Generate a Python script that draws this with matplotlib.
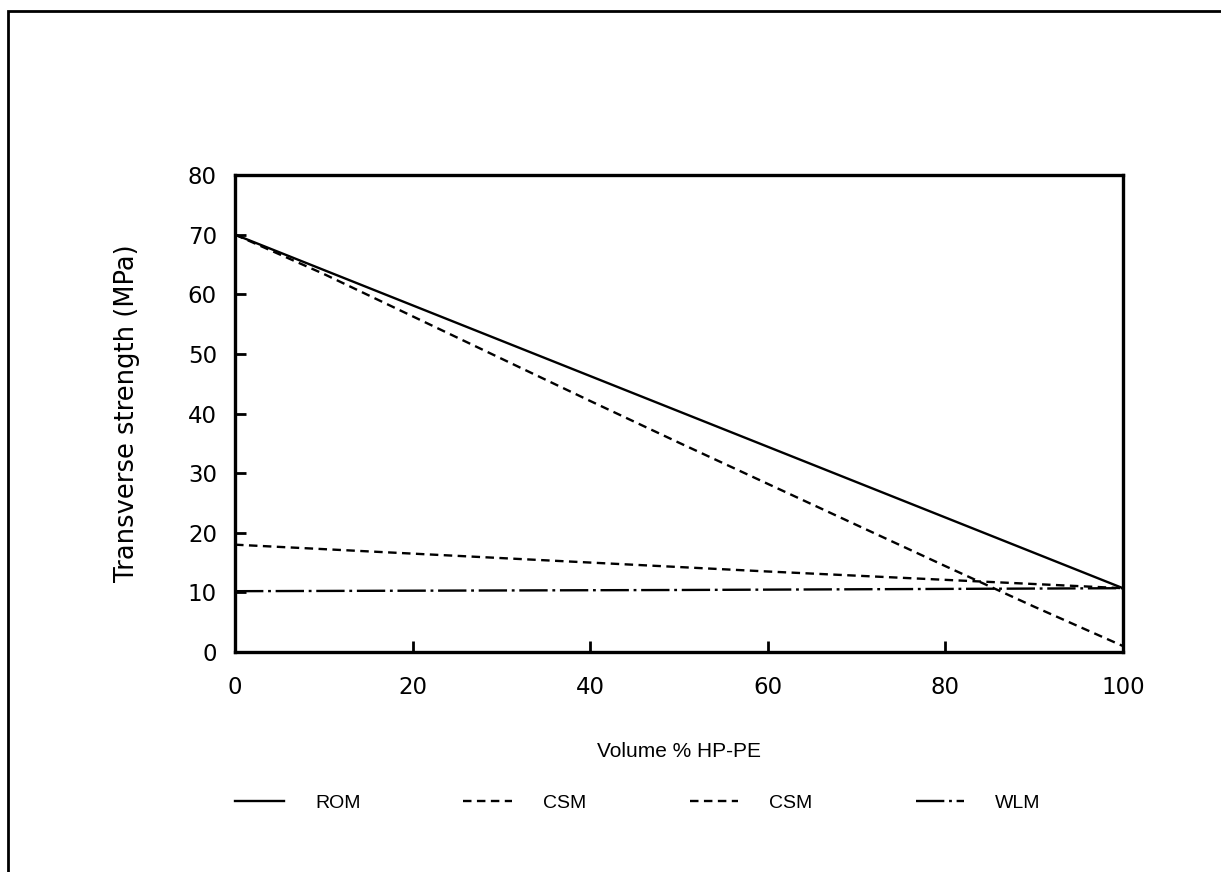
import matplotlib.pyplot as plt
from matplotlib.patches import Rectangle

# data
vol_rom = [0, 100]
rom = [70.0, 10.7]

vol_csm_a = [0, 10, 20, 30, 40, 50, 60, 70, 80, 85, 90, 95, 100]
csm_a = [70.0, 63.4, 56.3, 49.2, 42.1, 35.1, 28.2, 21.3, 14.4, 11.0, 7.6, 4.3, 1.0]

vol_csm_b = [0, 20, 40, 60, 80, 100]
csm_b = [18.0, 16.5, 15.0, 13.5, 12.1, 10.7]

vol_wlm = [0, 50, 100]
wlm = [10.2, 10.4, 10.7]

x_ticks = [0, 20, 40, 60, 80, 100]
y_ticks = [0, 10, 20, 30, 40, 50, 60, 70, 80]

fig = plt.figure(figsize=(12.21, 8.72), dpi=100)
ax = fig.add_axes([0.1925, 0.2523, 0.7272, 0.547])

lw = 1.7
(l_rom,) = ax.plot(vol_rom, rom, color="black", lw=lw, label="ROM")
(l_csm_a,) = ax.plot(vol_csm_a, csm_a, color="black", lw=lw, label="CSM")
l_csm_a.set_dashes((3.6, 2.3))
(l_csm_b,) = ax.plot(vol_csm_b, csm_b, color="black", lw=lw, label="CSM")
l_csm_b.set_dashes((3.6, 2.3))
(l_wlm,) = ax.plot(vol_wlm, wlm, color="black", lw=lw, label="WLM")
l_wlm.set_dashes((12, 2, 1.2, 2))

ax.set_xlim(0, 100)
ax.set_ylim(0, 80)
ax.set_xticks(x_ticks)
ax.set_yticks(y_ticks)
ax.tick_params(direction="in", length=8, width=2, labelsize=16.5, color="black")
ax.tick_params(axis="y", pad=13)
ax.tick_params(axis="x", pad=17)
for lab in ax.get_xticklabels() + ax.get_yticklabels():
    lab.set_family("DejaVu Sans")
for sp in ax.spines.values():
    sp.set_linewidth(2.4)

ax.set_ylabel("Transverse strength (MPa)", fontsize=18.5, family="DejaVu Sans")
ax.yaxis.set_label_coords(-0.107, 0.5)
ax.set_xlabel("Volume % HP-PE", fontsize=15, family="Liberation Sans")
ax.xaxis.set_label_coords(0.5, -0.189)

leg = fig.legend(
    handles=[l_rom, l_csm_a, l_csm_b, l_wlm],
    loc="center",
    bbox_to_anchor=(0.5225, 0.079),
    ncol=4,
    frameon=False,
    prop={"family": "Liberation Sans", "size": 14},
    handlelength=2.5,
    handletextpad=1.6,
    columnspacing=5.3,
)

# outer frame of the scanned page (right/bottom edges fall outside the image)
fig.add_artist(Rectangle((8 / 1221, -0.05), 1.1, 1 - 11 / 872 + 0.05,
                         transform=fig.transFigure, fill=False,
                         edgecolor="black", lw=2))

fig.savefig("out.png", dpi=100)
